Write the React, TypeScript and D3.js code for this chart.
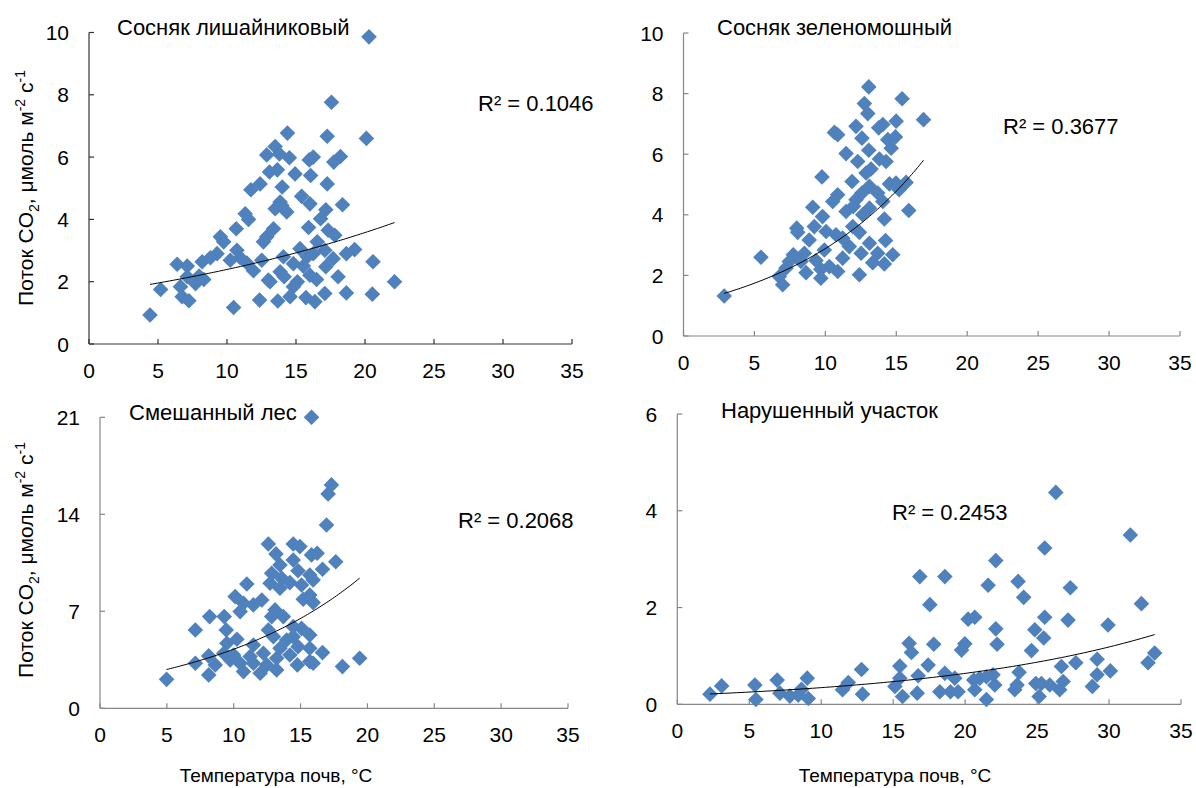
import React from "react";
import * as d3 from "d3";

// ---- Data ----
const lichenT = [20.29,17.57,14.38,17.26,20.1,13.49,12.88,13.8,14.52,15.96,16.25,17.74,18.22,13.08,13.65,14.93,16.06,12.4,11.73,14.0,17.26,15.41,16.01,13.85,13.49,14.33,13.97,17.16,16.78,18.37,11.32,11.56,10.67,13.37,15.91,12.64,12.88,17.33,17.81,9.52,9.76,10.72,10.96,9.28,8.8,8.2,6.39,7.12,11.44,11.92,12.52,14.09,15.29,15.82,16.54,17.09,17.69,18.65,19.25,20.58,22.14,20.53,18.65,17.09,16.37,15.72,14.81,15.1,14.57,13.68,12.36,13.12,13.85,14.14,16.01,16.49,18.05,10.48,8.32,7.72,7.12,6.63,6.75,7.24,5.19,4.42,7.98,14.81,13.0,16.25,10.24,15.53,17.16];
const lichenFlux = [9.86,7.76,6.77,6.67,6.6,6.34,6.07,6.1,5.98,5.91,6.0,5.84,6.02,5.52,5.59,5.46,5.41,5.14,4.95,5.04,5.14,4.74,4.5,4.56,4.34,4.24,4.45,4.31,4.02,4.47,4.18,4.0,3.7,3.7,3.74,3.28,3.44,3.65,3.49,3.44,3.28,3.01,2.77,2.9,2.77,2.64,2.56,2.5,2.6,2.35,2.69,2.8,3.06,2.8,3.28,3.01,2.74,2.9,3.03,2.64,2.0,1.6,1.64,1.62,1.36,1.49,1.84,2.0,1.52,1.38,1.41,2.0,2.32,2.16,2.21,2.07,2.16,1.17,2.07,1.94,2.16,1.84,1.52,1.39,1.75,0.93,2.18,2.58,2.05,2.9,2.69,2.5,2.48];

const mossT = [13.06,15.41,12.75,12.99,16.92,14.99,14.05,13.76,12.16,10.64,10.87,12.58,14.94,14.4,13.06,14.64,11.46,12.28,13.81,14.28,13.22,9.76,11.88,15.69,14.52,15.2,13.11,12.58,10.87,10.52,13.69,14.05,15.88,11.98,11.46,13.11,9.11,9.8,12.63,14.16,9.22,7.98,8.05,10.05,12.4,10.75,8.86,14.24,13.11,11.69,9.93,7.74,5.46,8.52,14.75,12.52,13.69,8.28,9.34,11.22,13.34,14.16,7.22,8.64,9.68,10.87,10.28,12.4,6.75,6.99,9.68,2.87,7.46,11.22,11.93,12.16,14.98,12.87];
const mossFlux = [8.22,7.83,7.67,7.34,7.14,7.09,6.98,6.87,6.92,6.72,6.64,6.53,6.57,6.48,6.13,6.2,6.02,5.76,5.84,5.76,5.51,5.25,5.1,5.07,5.02,4.83,4.94,4.72,4.66,4.44,4.72,4.44,4.14,4.28,4.11,4.22,4.25,3.94,4.0,3.86,3.61,3.56,3.42,3.45,3.42,3.34,3.17,3.15,3.06,2.95,2.84,2.68,2.6,2.73,2.68,2.73,2.73,2.46,2.49,2.57,2.42,2.38,2.24,2.09,2.2,2.13,2.29,2.02,1.96,1.69,1.91,1.32,2.46,3.23,3.61,4.5,5.05,5.38];

const mixedT = [15.82,17.31,17.06,16.94,17.63,12.59,14.45,14.95,13.16,15.82,16.24,14.45,13.46,16.64,12.84,14.81,15.69,13.59,12.72,10.98,14.2,15.07,15.94,13.46,10.11,10.73,12.1,11.47,15.2,15.94,15.69,10.48,13.09,13.71,8.2,9.29,7.13,9.44,12.59,14.45,15.07,15.69,10.24,9.49,12.97,14.45,11.47,14.81,13.46,15.69,8.13,7.13,8.62,9.74,10.48,11.23,12.22,13.21,14.2,15.69,16.64,14.76,15.94,10.73,11.98,13.21,8.13,4.98,18.13,19.42,9.99,12.47,13.96,11.47,9.26,12.84];
const mixedFlux = [21.0,16.12,15.47,13.23,10.58,11.86,11.86,11.67,11.14,11.07,11.19,10.7,10.34,10.03,9.74,9.93,9.62,9.38,9.02,8.97,9.07,8.9,9.26,8.66,8.06,7.58,7.82,7.46,7.87,7.63,8.18,6.98,7.1,6.62,6.62,6.62,5.65,5.65,5.65,5.89,5.77,5.29,4.98,4.69,5.17,5.17,4.57,4.45,4.33,4.33,3.78,3.25,3.13,3.49,3.25,3.73,3.97,3.61,3.85,3.37,4.02,3.13,3.25,2.65,2.53,2.77,2.41,2.09,3.01,3.61,3.85,3.13,4.93,3.25,3.97,6.62];

const disturbedT = [26.3,31.48,25.53,22.13,16.85,18.59,21.6,23.68,27.31,24.07,17.55,32.25,20.21,20.67,25.53,27.15,29.93,22.13,24.84,25.46,16.11,17.82,19.98,19.75,22.22,24.61,16.27,17.43,15.46,33.17,32.71,27.69,29.17,30.09,29.17,26.69,23.75,12.8,11.88,11.48,12.87,15.12,15.46,15.65,16.67,16.74,18.59,19.28,18.24,18.98,19.51,20.67,21.02,21.48,21.94,22.06,21.48,23.45,23.61,24.91,25.14,25.3,25.88,26.57,26.81,28.84,2.27,3.08,5.39,5.46,6.94,7.13,7.82,8.4,8.63,9.03,9.1,20.6];
const disturbedFlux = [4.38,3.5,3.23,2.97,2.64,2.64,2.46,2.54,2.41,2.21,2.06,2.08,1.76,1.8,1.8,1.74,1.64,1.56,1.54,1.37,1.26,1.24,1.25,1.12,1.24,1.11,1.07,0.81,0.79,1.06,0.86,0.86,0.93,0.69,0.61,0.78,0.66,0.72,0.45,0.3,0.21,0.37,0.54,0.16,0.23,0.59,0.64,0.54,0.26,0.26,0.26,0.3,0.54,0.57,0.61,0.4,0.1,0.3,0.4,0.43,0.16,0.43,0.4,0.3,0.47,0.37,0.21,0.38,0.4,0.1,0.5,0.23,0.17,0.19,0.31,0.54,0.12,0.5];

const panelTitles = ["Сосняк лишайниковый", "Сосняк зеленомошный", "Смешанный лес", "Нарушенный участок"];
const r2Labels = ["R² = 0.1046", "R² = 0.3677", "R² = 0.2068", "R² = 0.2453"];
const trendA = [1.601, 1.052, 1.845, 0.1856];
const trendB = [0.0402, 0.1009, 0.0838, 0.0618];
const xTicks = [0, 5, 10, 15, 20, 25, 30, 35];
const yTicksP1 = [0, 2, 4, 6, 8, 10];
const yTicksP2 = [0, 2, 4, 6, 8, 10];
const yTicksP3 = [0, 7, 14, 21];
const yTicksP4 = [0, 2, 4, 6];
const xAxisTitle = "Температура почв, °C";

// ---- Layout ----
const FONT = "'Liberation Sans', Arial, sans-serif";
const BLUE = "#4F81BD";

type Panel = {
  xs: number[]; ys: number[]; title: string; r2: string; a: number; b: number;
  yTicks: number[]; x0: number; x1: number; y0: number; y1: number;
  titlePos: [number, number]; r2Pos: [number, number]; axisColor: string;
};

const panels: Panel[] = [
  { xs: lichenT, ys: lichenFlux, title: panelTitles[0], r2: r2Labels[0], a: trendA[0], b: trendB[0], yTicks: yTicksP1,
    x0: 89, x1: 572, y0: 344, y1: 32.5, titlePos: [117, 35], r2Pos: [478, 111], axisColor: "#333" },
  { xs: mossT, ys: mossFlux, title: panelTitles[1], r2: r2Labels[1], a: trendA[1], b: trendB[1], yTicks: yTicksP2,
    x0: 683.5, x1: 1180, y0: 336, y1: 33, titlePos: [717, 35], r2Pos: [1003, 134], axisColor: "#868686" },
  { xs: mixedT, ys: mixedFlux, title: panelTitles[2], r2: r2Labels[2], a: trendA[2], b: trendB[2], yTicks: yTicksP3,
    x0: 100, x1: 568, y0: 708.3, y1: 417.3, titlePos: [129, 420], r2Pos: [458, 528], axisColor: "#868686" },
  { xs: disturbedT, ys: disturbedFlux, title: panelTitles[3], r2: r2Labels[3], a: trendA[3], b: trendB[3], yTicks: yTicksP4,
    x0: 677.3, x1: 1181, y0: 704.3, y1: 414, titlePos: [721, 418], r2Pos: [892, 520], axisColor: "#868686" },
];

const diamond = d3.symbol().type(d3.symbolSquare).size(122)()!;

function PanelView({ p }: { p: Panel }) {
  const yMax = p.yTicks[p.yTicks.length - 1];
  const x = d3.scaleLinear().domain([0, 35]).range([p.x0, p.x1]);
  const y = d3.scaleLinear().domain([0, yMax]).range([p.y0, p.y1]);
  const xmin = d3.min(p.xs)!;
  const xmax = d3.max(p.xs)!;
  const trendPts = d3.range(0, 101).map((i) => {
    const t = xmin + ((xmax - xmin) * i) / 100;
    return [t, p.a * Math.exp(p.b * t)] as [number, number];
  });
  const line = d3.line<[number, number]>().x((d) => x(d[0])).y((d) => y(d[1]));
  return (
    <g>
      <line x1={p.x0} x2={p.x0} y1={y(yMax)} y2={p.y0} stroke={p.axisColor} strokeWidth={1.2} />
      <line x1={p.x0} x2={x(35)} y1={p.y0} y2={p.y0} stroke={p.axisColor} strokeWidth={1.2} />
      {p.yTicks.map((t) => (
        <g key={"y" + t}>
          <line x1={p.x0} x2={p.x0 + 5} y1={y(t)} y2={y(t)} stroke={p.axisColor} strokeWidth={1.2} />
          <text x={p.x0 - 20} y={y(t)} dy="0.36em" textAnchor="end" fontSize={21} fontFamily={FONT} fill="#000">{t}</text>
        </g>
      ))}
      {xTicks.map((t) => (
        <g key={"x" + t}>
          <line x1={x(t)} x2={x(t)} y1={p.y0} y2={p.y0 - 5} stroke={p.axisColor} strokeWidth={1.2} />
          <text x={x(t)} y={p.y0 + 34} textAnchor="middle" fontSize={21} fontFamily={FONT} fill="#000">{t}</text>
        </g>
      ))}
      {p.xs.map((xv, i) => (
        <path key={i} d={diamond} transform={`translate(${x(xv)},${y(p.ys[i])}) rotate(45)`} fill={BLUE} />
      ))}
      <path d={line(trendPts)!} fill="none" stroke="#000" strokeWidth={1} />
      <text x={p.titlePos[0]} y={p.titlePos[1]} fontSize={22} fontFamily={FONT} fill="#000">{p.title}</text>
      <text x={p.r2Pos[0]} y={p.r2Pos[1]} fontSize={22} fontFamily={FONT} fill="#000">{p.r2}</text>
    </g>
  );
}

function YTitle({ cx, cy }: { cx: number; cy: number }) {
  return (
    <text transform={`translate(${cx},${cy}) rotate(-90)`} textAnchor="middle" fontSize={21} fontFamily={FONT} fill="#000">
      Поток CO<tspan fontSize={14} dy={6}>2</tspan><tspan dy={-6}>, μмоль м</tspan>
      <tspan fontSize={14} dy={-8}>-2</tspan><tspan dy={8}> с</tspan><tspan fontSize={14} dy={-8}>-1</tspan>
    </text>
  );
}

export default function App() {
  return (
    <svg width={1196} height={788} style={{ position: "absolute", left: 0, top: 0, background: "#fff" }}>
      <rect width={1196} height={788} fill="#fff" />
      {panels.map((p, i) => <PanelView key={i} p={p} />)}
      <YTitle cx={33} cy={188} />
      <YTitle cx={33} cy={560} />
      <text x={276} y={782} textAnchor="middle" fontSize={19} fontFamily={FONT} fill="#000">{xAxisTitle}</text>
      <text x={895} y={782} textAnchor="middle" fontSize={19} fontFamily={FONT} fill="#000">{xAxisTitle}</text>
    </svg>
  );
}
